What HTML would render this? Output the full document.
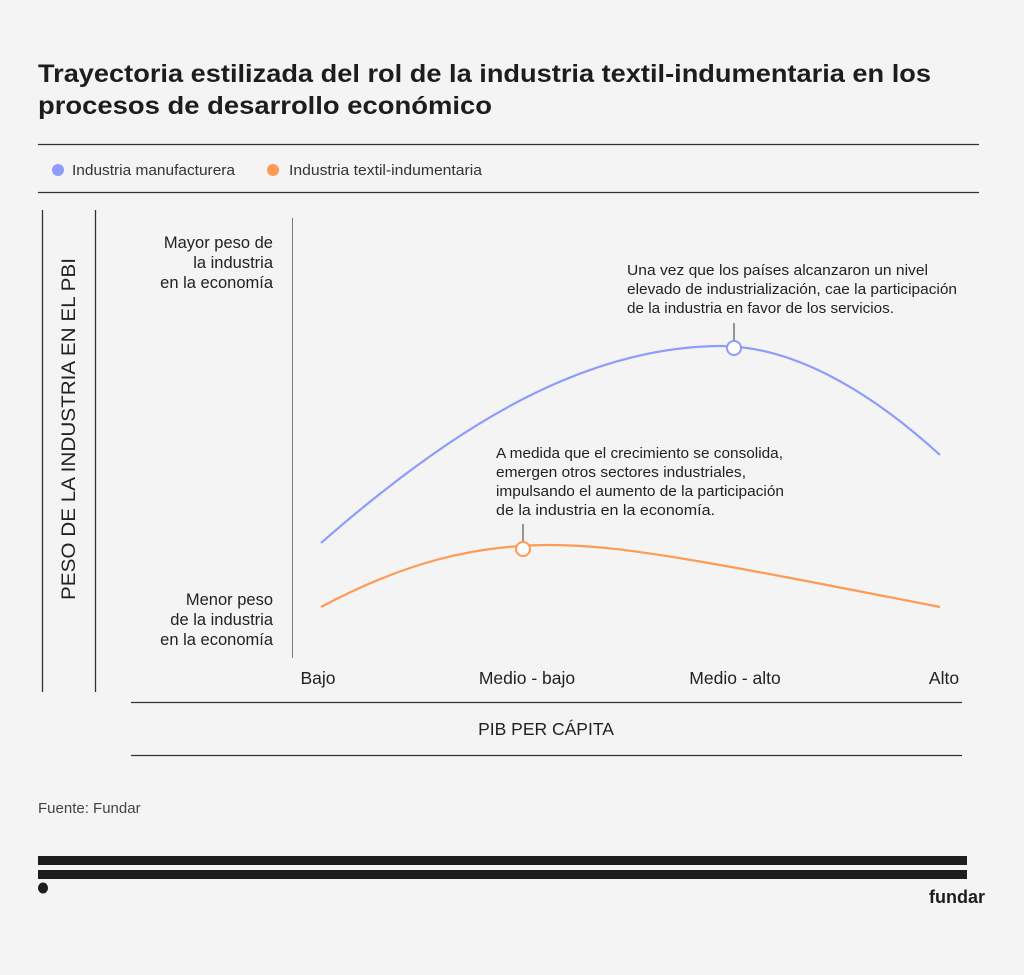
<!DOCTYPE html>
<html><head><meta charset="utf-8"><style>
body{margin:0;background:#f4f4f4;}
svg{display:block;font-family:"Liberation Sans",sans-serif;}
</style></head><body>
<svg width="1024" height="975" viewBox="0 0 1024 975">
<rect width="1024" height="975" fill="#f4f4f4"/>
<text x="38" y="82" font-size="25" font-weight="bold" fill="#1d1d1d" textLength="893" lengthAdjust="spacingAndGlyphs">Trayectoria estilizada del rol de la industria textil-indumentaria en los</text>
<text x="38" y="114" font-size="25" font-weight="bold" fill="#1d1d1d" textLength="454" lengthAdjust="spacingAndGlyphs">procesos de desarrollo económico</text>
<line x1="38" y1="144.5" x2="979" y2="144.5" stroke="#333" stroke-width="1.3"/>
<line x1="38" y1="192.5" x2="979" y2="192.5" stroke="#333" stroke-width="1.3"/>
<circle cx="58" cy="170" r="6" fill="#8e9cfb"/>
<text x="72" y="175" font-size="14.5" fill="#333" textLength="163" lengthAdjust="spacingAndGlyphs">Industria manufacturera</text>
<circle cx="273" cy="170" r="6" fill="#ff9a55"/>
<text x="289" y="175" font-size="14.5" fill="#333" textLength="193" lengthAdjust="spacingAndGlyphs">Industria textil-indumentaria</text>
<line x1="42.5" y1="210" x2="42.5" y2="692" stroke="#333" stroke-width="1.3"/>
<line x1="95.5" y1="210" x2="95.5" y2="692" stroke="#333" stroke-width="1.3"/>
<text transform="translate(75,429) rotate(-90)" text-anchor="middle" font-size="19" fill="#222" textLength="342" lengthAdjust="spacingAndGlyphs">PESO DE LA INDUSTRIA EN EL PBI</text>
<line x1="292.5" y1="218" x2="292.5" y2="658" stroke="#777" stroke-width="1"/>
<g font-size="16.5" fill="#222" text-anchor="end">
<text x="273" y="248">Mayor peso de</text><text x="273" y="268">la industria</text><text x="273" y="288">en la economía</text>
<text x="273" y="605">Menor peso</text><text x="273" y="625">de la industria</text><text x="273" y="645">en la economía</text>
</g>
<g font-size="17.5" fill="#222" text-anchor="middle">
<text x="318" y="684">Bajo</text><text x="527" y="684">Medio - bajo</text><text x="735" y="684">Medio - alto</text><text x="944" y="684">Alto</text>
</g>
<line x1="131" y1="702.5" x2="962" y2="702.5" stroke="#333" stroke-width="1.3"/>
<line x1="131" y1="755.5" x2="962" y2="755.5" stroke="#333" stroke-width="1.3"/>
<text x="546" y="735" font-size="17.5" fill="#222" text-anchor="middle">PIB PER CÁPITA</text>
<path d="M321,543 C450,430 580,347 720,346 C800,346 880,400 940,455" fill="none" stroke="#8e9cfb" stroke-width="2.2"/>
<path d="M321,607 C400,565 470,545 550,545 C620,545 700,560 940,607" fill="none" stroke="#ff9a55" stroke-width="2.2"/>
<line x1="734" y1="323" x2="734" y2="341" stroke="#333" stroke-width="1"/>
<circle cx="734" cy="348" r="7" fill="#fff" stroke="#8e9cfb" stroke-width="2"/>
<line x1="523" y1="524" x2="523" y2="542" stroke="#333" stroke-width="1"/>
<circle cx="523" cy="549" r="7" fill="#fff" stroke="#ff9a55" stroke-width="2"/>
<g font-size="15" fill="#222">
<text x="627" y="275" textLength="301" lengthAdjust="spacingAndGlyphs">Una vez que los países alcanzaron un nivel</text>
<text x="627" y="294" textLength="330" lengthAdjust="spacingAndGlyphs">elevado de industrialización, cae la participación</text>
<text x="627" y="313" textLength="267" lengthAdjust="spacingAndGlyphs">de la industria en favor de los servicios.</text>
<text x="496" y="458" textLength="287" lengthAdjust="spacingAndGlyphs">A medida que el crecimiento se consolida,</text>
<text x="496" y="477" textLength="250" lengthAdjust="spacingAndGlyphs">emergen otros sectores industriales,</text>
<text x="496" y="496" textLength="288" lengthAdjust="spacingAndGlyphs">impulsando el aumento de la participación</text>
<text x="496" y="515" textLength="219" lengthAdjust="spacingAndGlyphs">de la industria en la economía.</text>
</g>
<text x="38" y="813" font-size="15" fill="#444">Fuente: Fundar</text>
<rect x="38" y="856" width="929" height="9" fill="#1d1d1d"/>
<rect x="38" y="870" width="929" height="9" fill="#1d1d1d"/>
<ellipse cx="43" cy="888" rx="5" ry="5.5" fill="#1d1d1d"/>
<text x="985" y="903" font-size="18" font-weight="bold" fill="#1d1d1d" text-anchor="end">fundar</text>
</svg>
</body></html>
